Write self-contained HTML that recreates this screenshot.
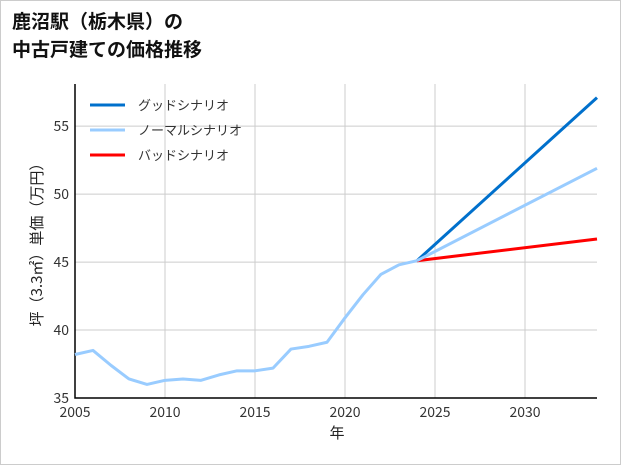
<!DOCTYPE html>
<html><head><meta charset="utf-8"><style>
body{margin:0;background:#fff}
svg{display:block;font-family:"Noto Sans CJK JP",sans-serif}
</style></head><body>
<svg width="621" height="465" viewBox="0 0 621 465">
<rect x="0.5" y="0.5" width="620" height="464" fill="#fff" stroke="#ccc"/>
<text x="12" y="28" font-size="19" font-weight="bold" fill="#111">鹿沼駅（栃木県）の</text>
<text x="12" y="56" font-size="19" font-weight="bold" fill="#111">中古戸建ての価格推移</text>
<g id="grid"></g><g id="axes"></g><g id="series"></g>
<text transform="translate(42,241) rotate(-90)" text-anchor="middle" font-size="15" fill="#222">坪（3.3㎡）単価（万円）</text>
<text x="337" y="438" text-anchor="middle" font-size="15" fill="#222">年</text>
<g>
<line x1="90" y1="105" x2="125" y2="105" stroke="#0070cc" stroke-width="3"/><text x="138" y="110" font-size="13" fill="#333">グッドシナリオ</text>
<line x1="90" y1="130" x2="125" y2="130" stroke="#99ccff" stroke-width="3"/><text x="138" y="135" font-size="13" fill="#333">ノーマルシナリオ</text>
<line x1="90" y1="155" x2="125" y2="155" stroke="#ff0000" stroke-width="3"/><text x="138" y="160" font-size="13" fill="#333">バッドシナリオ</text>
</g>
</svg>
<script>
const years=[2005,2006,2007,2008,2009,2010,2011,2012,2013,2014,2015,2016,2017,2018,2019,2020,2021,2022,2023,2024];
const history=[38.2,38.5,37.4,36.4,36.0,36.3,36.4,36.3,36.7,37.0,37.0,37.2,38.6,38.8,39.1,40.9,42.6,44.1,44.8,45.1];
const projYears=[2024,2034];
const good=[45.1,57.1];
const normal=[45.1,51.9];
const bad=[45.1,46.7];
const xTicks=[2005,2010,2015,2020,2025,2030];
const yTicks=[35,40,45,50,55];
const NS="http://www.w3.org/2000/svg";
const X0=75,X1=597,Y0=398,Y1=84,xmin=2005,xmax=2034,ymin=35,ymax=58.1;
const sx=v=>X0+(v-xmin)/(xmax-xmin)*(X1-X0);
const sy=v=>Y0-(v-ymin)/(ymax-ymin)*(Y0-Y1);
function mk(tag,attrs,parent){const e=document.createElementNS(NS,tag);for(const k in attrs)e.setAttribute(k,attrs[k]);document.getElementById(parent).appendChild(e);return e;}
xTicks.forEach(t=>{
 const l=mk('line',{x1:sx(t),x2:sx(t),y1:Y1,y2:Y0,stroke:'#ccc','stroke-width':1},'grid');
 
 
 const tx=mk('text',{x:sx(t),y:Y0+19,'text-anchor':'middle','font-size':14,fill:'#333'},'axes');
 tx.textContent=t;
 
 
});
yTicks.forEach(t=>{
 const l=mk('line',{x1:X0,x2:X1,y1:sy(t),y2:sy(t),stroke:'#ccc','stroke-width':1},'grid');
 
 
 const tx=mk('text',{x:X0-6,y:sy(t)+5,'text-anchor':'end','font-size':14,fill:'#333'},'axes');
 tx.textContent=t;
 
 
});
const ax=mk('path',{d:`M${X0},${Y1}V${Y0}H${X1}`,fill:'none',stroke:'#000','stroke-width':1.5},'axes');


function line(xs,ys,color,name){
 const p=mk('polyline',{points:xs.map((x,i)=>sx(x)+','+sy(ys[i])).join(' '),fill:'none',stroke:color,'stroke-width':3,'stroke-linejoin':'round'},'series');
 
 
}
line(projYears,good,'#0070cc','good-scenario-line');
line(projYears,bad,'#ff0000','bad-scenario-line');
line(projYears,normal,'#99ccff','normal-scenario-line');
line(years,history,'#99ccff','history-line');
</script>
</body></html>
